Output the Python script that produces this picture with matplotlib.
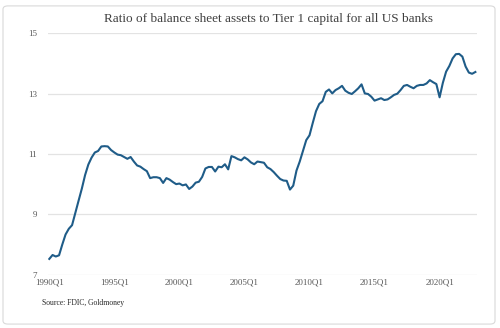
import matplotlib
matplotlib.use("Agg")
import matplotlib.pyplot as plt
from matplotlib.patches import FancyBboxPatch

TITLE = "Ratio of balance sheet assets to Tier 1 capital for all US banks"
SOURCE = "Source: FDIC, Goldmoney"

# quarterly series, 1990Q1 .. 2022Q4
ratio = [
    7.52, 7.65, 7.60, 7.64, 8.00, 8.33, 8.52, 8.64, 9.05, 9.45,
    9.85, 10.30, 10.65, 10.88, 11.05, 11.10, 11.25, 11.26, 11.25, 11.13,
    11.05, 10.98, 10.96, 10.90, 10.84, 10.90, 10.75, 10.62, 10.58, 10.50,
    10.43, 10.20, 10.23, 10.23, 10.20, 10.04, 10.20, 10.15, 10.07, 10.00,
    10.02, 9.96, 9.99, 9.84, 9.92, 10.05, 10.08, 10.24, 10.52, 10.57,
    10.57, 10.42, 10.58, 10.56, 10.66, 10.49, 10.93, 10.89, 10.83, 10.79,
    10.89, 10.82, 10.72, 10.66, 10.75, 10.73, 10.71, 10.56, 10.50, 10.40,
    10.28, 10.17, 10.12, 10.11, 9.82, 9.95, 10.45, 10.75, 11.10, 11.46,
    11.62, 12.03, 12.42, 12.66, 12.75, 13.06, 13.14, 13.01, 13.12, 13.18,
    13.26, 13.10, 13.03, 12.99, 13.08, 13.18, 13.31, 13.01, 12.99, 12.90,
    12.77, 12.81, 12.85, 12.79, 12.81, 12.88, 12.96, 13.00, 13.12, 13.26,
    13.29, 13.23, 13.18, 13.26, 13.29, 13.29, 13.34, 13.45, 13.38, 13.32,
    12.88, 13.36, 13.73, 13.92, 14.17, 14.31, 14.32, 14.23, 13.90, 13.70,
    13.66, 13.72,
]
start_year = 1990
quarters = [f"{start_year + i // 4}Q{i % 4 + 1}" for i in range(len(ratio))]
y_ticks = [7, 9, 11, 13, 15]
label_every = 20

serif = ["Liberation Serif", "DejaVu Serif"]

fig = plt.figure(figsize=(5.0, 3.28), dpi=100)
fig.patches.append(FancyBboxPatch((0.006, 0.012), 0.984, 0.97,
                                  boxstyle="round,pad=0,rounding_size=0.01",
                                  transform=fig.transFigure, facecolor="none",
                                  edgecolor="#D9D9D9", linewidth=0.8, zorder=-1))

ax = fig.add_axes([0.096, 0.1628, 0.858, 0.7354])
ax.set_facecolor("none")
x = list(range(len(ratio)))
ax.plot(x, ratio, color="#1F5C88", linewidth=1.5, solid_joinstyle="round", zorder=3)

ax.set_ylim(7, 15)
ax.set_xlim(-0.4, len(ratio) - 0.5)
ax.set_yticks(y_ticks)
ax.set_yticklabels([str(v) for v in y_ticks], family=serif, fontsize=6.5, color="#595959")
ax.set_xticks(x[::label_every])
ax.set_xticklabels(quarters[::label_every], family=serif, fontsize=6.5, color="#595959")
ax.tick_params(axis="both", length=0)
ax.tick_params(axis="y", pad=8)
ax.tick_params(axis="x", pad=3)
ax.grid(axis="y", color="#E3E3E3", linewidth=0.9, zorder=0)
for side in ["top", "right", "left", "bottom"]:
    ax.spines[side].set_visible(False)

fig.text(0.536, 0.943, TITLE, family=serif, fontsize=9.5, color="#404040",
         ha="center", va="center")
fig.text(0.083, 0.077, SOURCE, family=serif, fontsize=5.5, color="#262626",
         ha="left", va="center")

fig.savefig("out.png", dpi=100)
